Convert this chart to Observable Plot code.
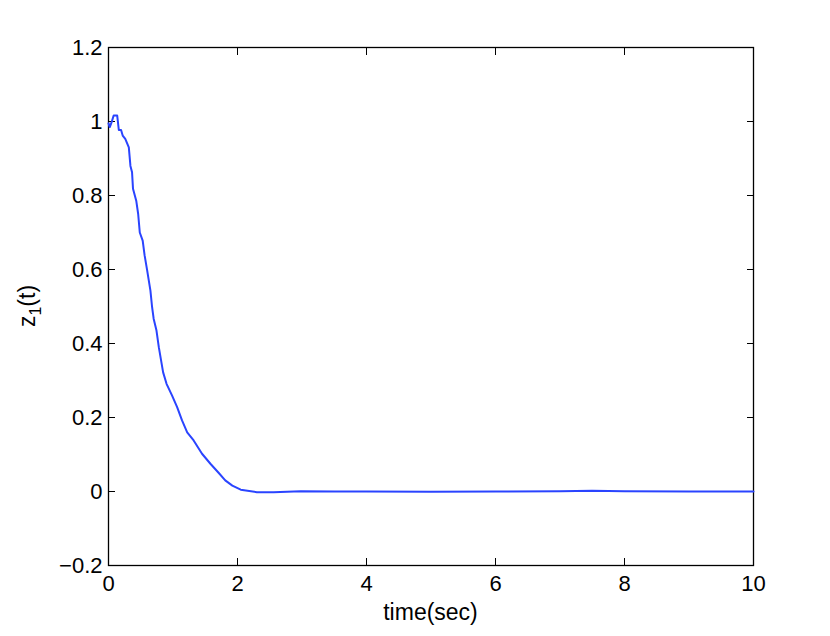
<!DOCTYPE html>
<html>
<head>
<meta charset="utf-8">
<script src="https://cdn.jsdelivr.net/npm/d3@7"></script>
<script src="https://cdn.jsdelivr.net/npm/@observablehq/plot@0.6"></script>
<style>
  html, body { margin: 0; padding: 0; background: #fff; }
  svg { display: block; }
</style>
</head>
<body>
<div id="chart"></div>
<script>
const time = [0, 0.02, 0.05, 0.08, 0.135, 0.16, 0.195, 0.22, 0.26, 0.315, 0.34, 0.365, 0.38, 0.43, 0.46, 0.485, 0.53, 0.56, 0.60, 0.625, 0.65, 0.676, 0.70, 0.744, 0.78, 0.847, 0.90, 0.986, 1.064, 1.14, 1.22, 1.32, 1.45, 1.58, 1.71, 1.81, 1.92, 2.05, 2.30, 2.56, 2.98, 3.5, 4.0, 5.0, 6.0, 7.0, 7.5, 8.0, 9.0, 10.0];
const z1 = [0.995, 0.985, 0.999, 1.016, 1.016, 0.977, 0.977, 0.962, 0.953, 0.93, 0.88, 0.863, 0.818, 0.786, 0.75, 0.70, 0.678, 0.638, 0.597, 0.570, 0.543, 0.498, 0.467, 0.435, 0.39, 0.322, 0.291, 0.259, 0.228, 0.192, 0.160, 0.138, 0.102, 0.075, 0.050, 0.030, 0.016, 0.005, -0.002, -0.002, 0.001, 0.0, 0.0, -0.001, 0.0, 0.001, 0.002, 0.001, 0.0, 0.0];
const xTicks = [0, 2, 4, 6, 8, 10];
const yTicks = [-0.2, 0, 0.2, 0.4, 0.6, 0.8, 1, 1.2];
const xLabel = "time(sec)";

const data = time.map((t, i) => ({t, z: z1[i]}));
const fmt = d => (d < 0 ? "\u2212" : "") + String(Math.round(Math.abs(d) * 10) / 10);

const plot = Plot.plot({
  width: 830,
  height: 636,
  marginLeft: 108,
  marginRight: 77,
  marginTop: 47,
  marginBottom: 71,
  style: {fontFamily: "Liberation Sans, Arial, sans-serif", fontSize: "22px", background: "#fff", color: "#000"},
  x: {domain: [0, 10]},
  y: {domain: [-0.2, 1.2]},
  marks: [
    Plot.frame({stroke: "#000", strokeWidth: 1.3}),
    Plot.axisX({ticks: xTicks, tickSize: -7, tickPadding: 17, tickFormat: fmt, label: null, fontSize: 22}),
    Plot.axisX({anchor: "top", ticks: xTicks, tickSize: -7, tickFormat: () => "", label: null}),
    Plot.axisY({ticks: yTicks, tickSize: -7, tickPadding: 13, tickFormat: fmt, label: null, fontSize: 22}),
    Plot.axisY({anchor: "right", ticks: yTicks, tickSize: -7, tickFormat: () => "", label: null}),
    Plot.line(data, {x: "t", y: "z", stroke: "#2a44ff", strokeWidth: 2})
  ]
});

const svg = d3.select(plot);
svg.append("text")
  .attr("x", 430.5).attr("y", 620)
  .attr("text-anchor", "middle")
  .style("font-family", "Liberation Sans, Arial, sans-serif")
  .style("font-size", "23px")
  .attr("fill", "#000")
  .text(xLabel);

const yl = svg.append("text")
  .attr("transform", "translate(35,306) rotate(-90)")
  .attr("text-anchor", "middle")
  .style("font-family", "Liberation Sans, Arial, sans-serif")
  .style("font-size", "23px")
  .attr("fill", "#000");
yl.append("tspan").text("z");
yl.append("tspan").attr("dy", 6).style("font-size", "16px").text("1");
yl.append("tspan").attr("dy", -6).text("(t)");

document.getElementById("chart").appendChild(plot);
</script>
</body>
</html>
